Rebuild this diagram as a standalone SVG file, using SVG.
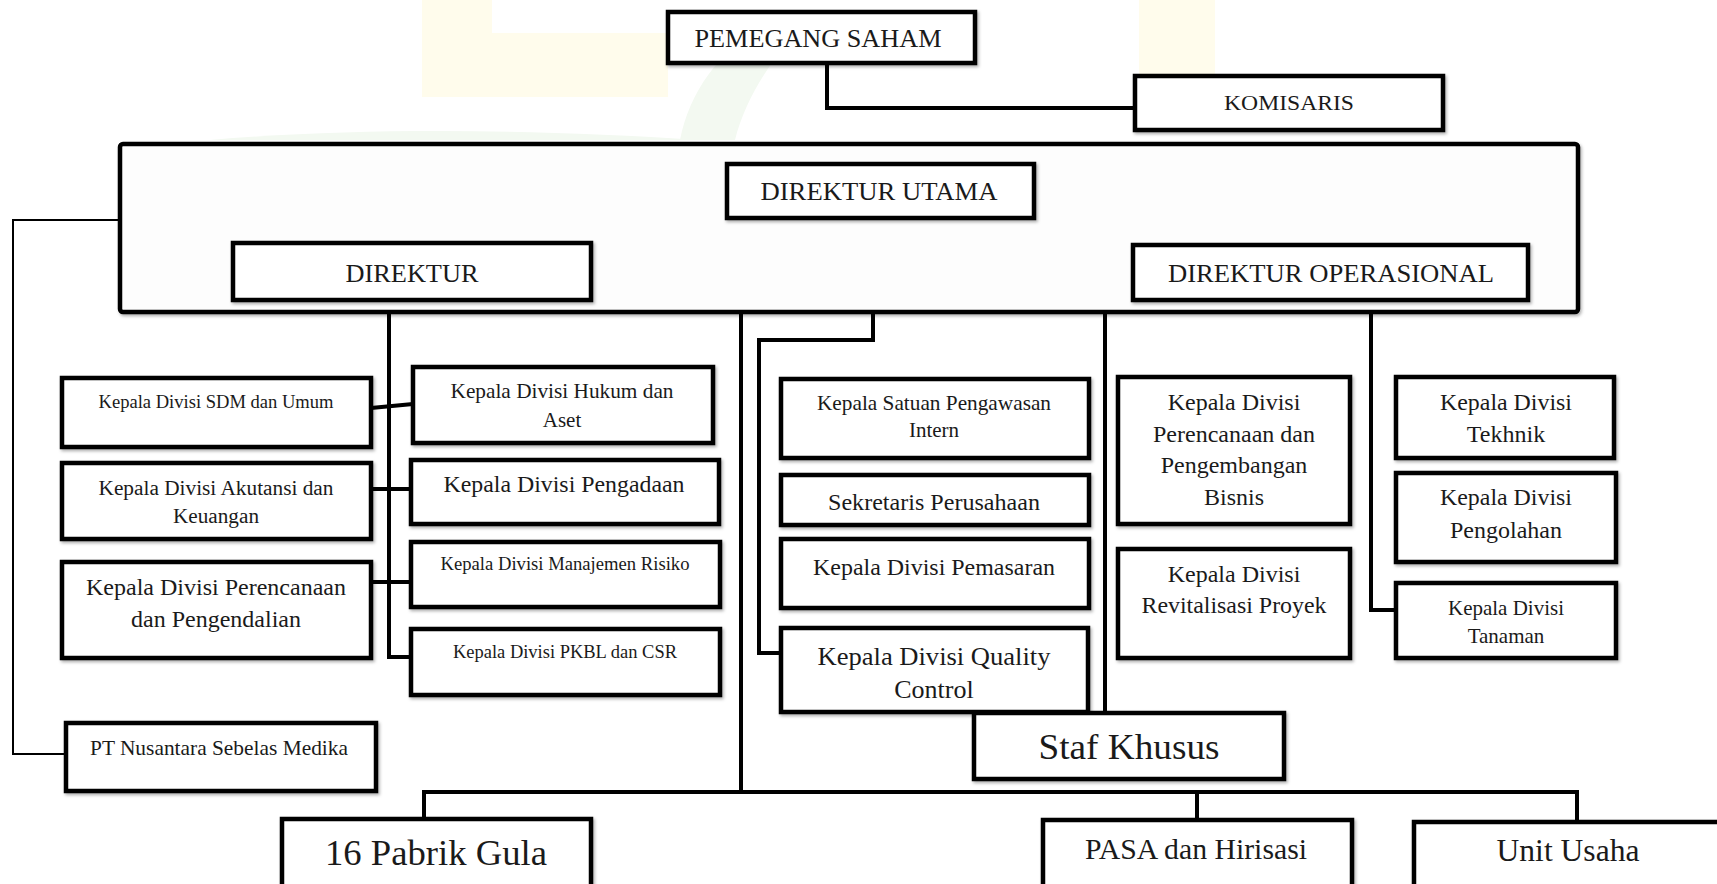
<svg xmlns="http://www.w3.org/2000/svg" width="1717" height="884" viewBox="0 0 1717 884">
<defs>
<filter id="sh" x="-5%" y="-5%" width="115%" height="130%">
<feDropShadow dx="1.5" dy="2" stdDeviation="1.5" flood-color="#000" flood-opacity="0.3"/>
</filter>
</defs>
<style>
.box{fill:#fff;stroke:#000;stroke-width:4.5;filter:url(#sh)}
.outer{fill:#fdfdfd;stroke:#000;stroke-width:4.5;filter:url(#sh)}
.ln{fill:none;stroke:#000;stroke-width:4;stroke-linejoin:miter}
.thin{fill:none;stroke:#000;stroke-width:2}
text{font-family:"Liberation Serif","Times New Roman",serif;fill:#1a1a1a;text-anchor:middle}
.wm1{fill:#fffcec}
.wm2{fill:#f3f9f1}
</style>
<rect width="1717" height="884" fill="#fff"/>
<g id="watermark">
<path class="wm1" d="M422 0 H492 V33 H668 V97 H422 Z"/>
<path class="wm1" d="M1139 0 H1215 V82 H1139 Z"/>
<path class="wm2" d="M680 140 C690 90 720 50 770 20 L800 30 C770 60 745 100 735 140 Z"/>
<path class="wm2" d="M210 140 C350 128 520 128 700 140 Z"/>
</g>
<g id="connectors">
<path class="ln" d="M827 64 V108 H1135"/>
<path class="ln" d="M873 218 V340 H759 V653 H781"/>
<path class="ln" d="M389 300 V657 H411"/>
<path class="ln" d="M371 408 L413 404"/>
<path class="ln" d="M371 489 H411"/>
<path class="ln" d="M371 582 H411"/>
<path class="ln" d="M1371 300 V610 H1396"/>
<path class="ln" d="M741 312 V792"/>
<path class="ln" d="M1105 312 V713"/>
<path class="ln" d="M424 819 V792 H1577 V822"/>
<path class="ln" d="M1197 792 V820"/>
<path class="thin" d="M120 220 H13 V754 H66"/>
</g>
<g id="n-outer"><rect class="outer" x="120" y="144" width="1458" height="168" rx="3"/></g>
<g id="n-pemegang"><rect class="box" x="668" y="12" width="307" height="51"/><text x="818" y="47" font-size="26" textLength="247" lengthAdjust="spacingAndGlyphs" fill="#000">PEMEGANG SAHAM</text></g>
<g id="n-komisaris"><rect class="box" x="1135" y="76" width="308" height="54"/><text x="1289" y="110" font-size="22" textLength="130" lengthAdjust="spacingAndGlyphs" fill="#000">KOMISARIS</text></g>
<g id="n-dirut"><rect class="box" x="727" y="164" width="307" height="54"/><text x="879" y="200" font-size="25" textLength="237" lengthAdjust="spacingAndGlyphs">DIREKTUR UTAMA</text></g>
<g id="n-direktur"><rect class="box" x="233" y="243" width="358" height="57"/><text x="412" y="282" font-size="25" textLength="133" lengthAdjust="spacingAndGlyphs">DIREKTUR</text></g>
<g id="n-dirop"><rect class="box" x="1133" y="245" width="395" height="55"/><text x="1331" y="282" font-size="25" textLength="326" lengthAdjust="spacingAndGlyphs">DIREKTUR OPERASIONAL</text></g>
<g id="n-sdm"><rect class="box" x="62" y="378" width="309" height="69"/><text x="216" y="408" font-size="18" textLength="235" lengthAdjust="spacingAndGlyphs">Kepala Divisi SDM dan Umum</text></g>
<g id="n-akutansi"><rect class="box" x="62" y="463" width="309" height="76"/><text x="216" y="495" font-size="20" textLength="235" lengthAdjust="spacingAndGlyphs">Kepala Divisi Akutansi dan</text><text x="216" y="523" font-size="20" textLength="86" lengthAdjust="spacingAndGlyphs">Keuangan</text></g>
<g id="n-perencanaan"><rect class="box" x="62" y="562" width="309" height="96"/><text x="216" y="595" font-size="24" textLength="260" lengthAdjust="spacingAndGlyphs">Kepala Divisi Perencanaan</text><text x="216" y="627" font-size="24" textLength="170" lengthAdjust="spacingAndGlyphs">dan Pengendalian</text></g>
<g id="n-hukum"><rect class="box" x="413" y="367" width="300" height="76"/><text x="562" y="398" font-size="21" textLength="223" lengthAdjust="spacingAndGlyphs" fill="#000">Kepala Divisi Hukum dan</text><text x="562" y="427" font-size="21" fill="#000">Aset</text></g>
<g id="n-pengadaan"><rect class="box" x="411" y="460" width="308" height="64"/><text x="564" y="492" font-size="24" textLength="241" lengthAdjust="spacingAndGlyphs">Kepala Divisi Pengadaan</text></g>
<g id="n-manajemen"><rect class="box" x="411" y="542" width="309" height="65"/><text x="565" y="570" font-size="18" textLength="249" lengthAdjust="spacingAndGlyphs">Kepala Divisi Manajemen Risiko</text></g>
<g id="n-pkbl"><rect class="box" x="411" y="629" width="309" height="66"/><text x="565" y="658" font-size="18" textLength="224" lengthAdjust="spacingAndGlyphs">Kepala Divisi PKBL dan CSR</text></g>
<g id="n-ptmedika"><rect class="box" x="66" y="723" width="310" height="68"/><text x="219" y="755" font-size="21" textLength="258" lengthAdjust="spacingAndGlyphs">PT Nusantara Sebelas Medika</text></g>
<g id="n-spi"><rect class="box" x="781" y="379" width="308" height="79"/><text x="934" y="410" font-size="21" textLength="234" lengthAdjust="spacingAndGlyphs">Kepala Satuan Pengawasan</text><text x="934" y="437" font-size="21">Intern</text></g>
<g id="n-sekper"><rect class="box" x="781" y="475" width="308" height="50"/><text x="934" y="510" font-size="23" textLength="212" lengthAdjust="spacingAndGlyphs">Sekretaris Perusahaan</text></g>
<g id="n-pemasaran"><rect class="box" x="781" y="539" width="308" height="69"/><text x="934" y="575" font-size="24" textLength="242" lengthAdjust="spacingAndGlyphs">Kepala Divisi Pemasaran</text></g>
<g id="n-qc"><rect class="box" x="781" y="628" width="307" height="84"/><text x="934" y="665" font-size="26" textLength="233" lengthAdjust="spacingAndGlyphs">Kepala Divisi Quality</text><text x="934" y="698" font-size="26">Control</text></g>
<g id="n-renbang"><rect class="box" x="1118" y="377" width="232" height="147"/><text x="1234" y="410" font-size="24">Kepala Divisi</text><text x="1234" y="442" font-size="24" textLength="162" lengthAdjust="spacingAndGlyphs">Perencanaan dan</text><text x="1234" y="473" font-size="24">Pengembangan</text><text x="1234" y="505" font-size="24">Bisnis</text></g>
<g id="n-revitalisasi"><rect class="box" x="1118" y="549" width="232" height="109"/><text x="1234" y="582" font-size="24">Kepala Divisi</text><text x="1234" y="613" font-size="24" textLength="185" lengthAdjust="spacingAndGlyphs">Revitalisasi Proyek</text></g>
<g id="n-tekhnik"><rect class="box" x="1396" y="377" width="218" height="81"/><text x="1506" y="410" font-size="24" textLength="132" lengthAdjust="spacingAndGlyphs">Kepala Divisi</text><text x="1506" y="442" font-size="24">Tekhnik</text></g>
<g id="n-pengolahan"><rect class="box" x="1396" y="473" width="220" height="89"/><text x="1506" y="505" font-size="24" textLength="132" lengthAdjust="spacingAndGlyphs">Kepala Divisi</text><text x="1506" y="538" font-size="24">Pengolahan</text></g>
<g id="n-tanaman"><rect class="box" x="1396" y="583" width="220" height="75"/><text x="1506" y="615" font-size="21" textLength="116" lengthAdjust="spacingAndGlyphs">Kepala Divisi</text><text x="1506" y="643" font-size="21">Tanaman</text></g>
<g id="n-staf"><rect class="box" x="974" y="713" width="310" height="66"/><text x="1129" y="759" font-size="36" textLength="181" lengthAdjust="spacingAndGlyphs">Staf Khusus</text></g>
<g id="n-pabrik"><rect class="box" x="282" y="819" width="309" height="90"/><text x="436" y="865" font-size="36" textLength="222" lengthAdjust="spacingAndGlyphs" fill="#000">16 Pabrik Gula</text></g>
<g id="n-pasa"><rect class="box" x="1043" y="820" width="309" height="90"/><text x="1196" y="859" font-size="29" textLength="222" lengthAdjust="spacingAndGlyphs" fill="#000">PASA dan Hirisasi</text></g>
<g id="n-unit"><rect class="box" x="1414" y="822" width="320" height="90"/><text x="1568" y="861" font-size="31" textLength="143" lengthAdjust="spacingAndGlyphs" fill="#000">Unit Usaha</text></g>
</svg>
